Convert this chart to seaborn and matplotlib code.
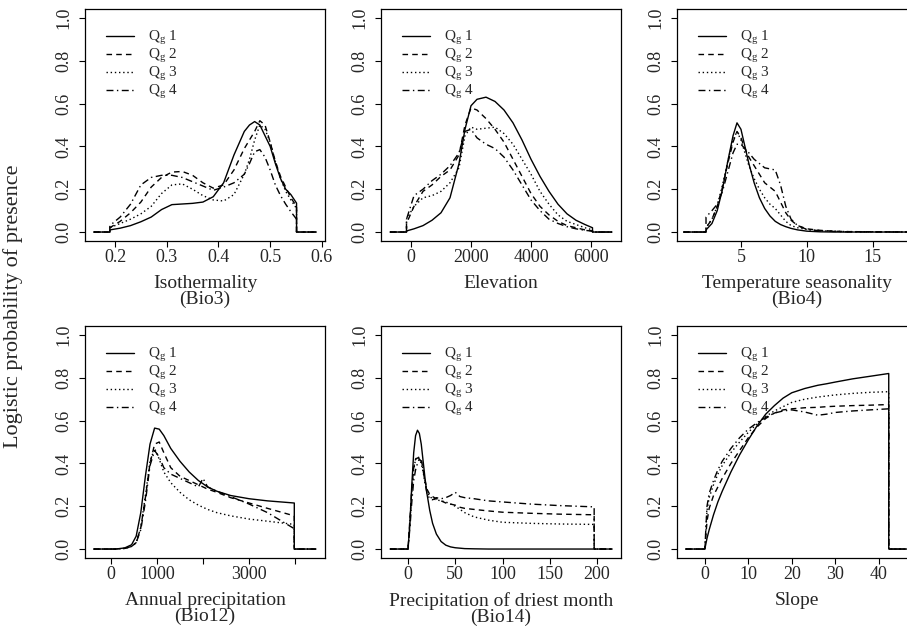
import numpy as np
import pandas as pd
import matplotlib
matplotlib.use("Agg")
import matplotlib.pyplot as plt
import seaborn as sns

# ---- data (x grid per panel, one y list per model) ----
series_names = ["Q$_{\\mathrm{g}}$ 1", "Q$_{\\mathrm{g}}$ 2", "Q$_{\\mathrm{g}}$ 3", "Q$_{\\mathrm{g}}$ 4"]

iso_x = [0.159, 0.19, 0.19, 0.21, 0.23, 0.25, 0.27, 0.29, 0.31, 0.33, 0.35, 0.37, 0.39, 0.41,
         0.43, 0.45, 0.46, 0.47, 0.48, 0.49, 0.50, 0.51, 0.52, 0.53, 0.54, 0.551, 0.551, 0.589]
iso_q1 = [0, 0, 0.01, 0.018, 0.03, 0.048, 0.07, 0.105, 0.128, 0.131, 0.134, 0.14, 0.165, 0.23,
          0.36, 0.47, 0.50, 0.516, 0.50, 0.45, 0.40, 0.32, 0.25, 0.20, 0.175, 0.135, 0, 0]
iso_q2 = [0, 0, 0.02, 0.05, 0.09, 0.14, 0.21, 0.255, 0.28, 0.283, 0.265, 0.23, 0.205, 0.22,
          0.29, 0.39, 0.43, 0.47, 0.52, 0.50, 0.42, 0.33, 0.26, 0.21, 0.16, 0.12, 0, 0]
iso_q3 = [0, 0, 0.02, 0.04, 0.06, 0.085, 0.12, 0.18, 0.22, 0.225, 0.20, 0.17, 0.15, 0.145,
          0.175, 0.27, 0.34, 0.43, 0.50, 0.48, 0.42, 0.33, 0.25, 0.19, 0.15, 0.11, 0, 0]
iso_q4 = [0, 0, 0.03, 0.07, 0.13, 0.22, 0.255, 0.265, 0.265, 0.255, 0.235, 0.215, 0.195, 0.21,
          0.23, 0.27, 0.32, 0.375, 0.385, 0.35, 0.29, 0.22, 0.17, 0.13, 0.095, 0.06, 0, 0]

elev_x = [-700, -150, -150, 100, 400, 700, 1000, 1300, 1600, 1800, 2000, 2200, 2500, 2800,
          3100, 3400, 3700, 4000, 4300, 4600, 4900, 5200, 5500, 5800, 6050, 6050, 6700]
elev_q1 = [0, 0, 0.005, 0.015, 0.03, 0.055, 0.09, 0.16, 0.32, 0.48, 0.59, 0.62, 0.63, 0.61,
           0.57, 0.51, 0.43, 0.34, 0.26, 0.19, 0.13, 0.085, 0.055, 0.035, 0.02, 0, 0]
elev_q2 = [0, 0, 0.04, 0.12, 0.19, 0.22, 0.26, 0.29, 0.36, 0.50, 0.58, 0.57, 0.53, 0.48,
           0.42, 0.34, 0.26, 0.18, 0.12, 0.08, 0.05, 0.03, 0.02, 0.01, 0.005, 0, 0]
elev_q3 = [0, 0, 0.06, 0.12, 0.16, 0.17, 0.19, 0.23, 0.30, 0.45, 0.49, 0.48, 0.485, 0.49,
           0.46, 0.41, 0.34, 0.27, 0.19, 0.13, 0.08, 0.05, 0.035, 0.02, 0.01, 0, 0]
elev_q4 = [0, 0, 0.06, 0.17, 0.20, 0.24, 0.27, 0.31, 0.37, 0.47, 0.48, 0.44, 0.41, 0.39,
           0.35, 0.29, 0.22, 0.15, 0.10, 0.06, 0.04, 0.025, 0.015, 0.008, 0.004, 0, 0]

temp_x = [0.65, 2.35, 2.35, 2.8, 3.2, 3.6, 4.0, 4.4, 4.7, 5.0, 5.3, 5.6, 6.0, 6.4, 6.8, 7.2,
          7.6, 8.0, 8.4, 8.8, 9.3, 10.0, 11.0, 12.0, 13.0, 18.5]
temp_q1 = [0, 0, 0.01, 0.04, 0.10, 0.20, 0.33, 0.45, 0.51, 0.48, 0.40, 0.32, 0.23, 0.16, 0.11,
           0.075, 0.05, 0.035, 0.025, 0.017, 0.01, 0.004, 0.001, 0, 0, 0]
temp_q2 = [0, 0, 0.02, 0.06, 0.12, 0.21, 0.32, 0.42, 0.47, 0.44, 0.39, 0.35, 0.31, 0.27, 0.23,
           0.21, 0.19, 0.14, 0.09, 0.055, 0.03, 0.015, 0.008, 0.004, 0.002, 0]
temp_q3 = [0, 0, 0.02, 0.06, 0.12, 0.22, 0.33, 0.43, 0.47, 0.43, 0.37, 0.31, 0.25, 0.20, 0.16,
           0.13, 0.11, 0.08, 0.05, 0.03, 0.02, 0.012, 0.006, 0.004, 0.002, 0]
temp_q4 = [0, 0, 0.07, 0.10, 0.13, 0.19, 0.28, 0.37, 0.41, 0.41, 0.39, 0.37, 0.34, 0.32, 0.30,
           0.295, 0.29, 0.22, 0.12, 0.06, 0.03, 0.012, 0.006, 0.003, 0.001, 0]

prec_x = [-370, 100, 300, 450, 550, 650, 750, 850, 950, 1050, 1150, 1300, 1500, 1700, 1900,
          2000, 2100, 2300, 2600, 3000, 3400, 3980, 3980, 4450]
prec_q1 = [0, 0, 0.005, 0.02, 0.06, 0.17, 0.34, 0.49, 0.565, 0.56, 0.53, 0.47, 0.41, 0.36,
           0.32, 0.305, 0.29, 0.27, 0.25, 0.235, 0.225, 0.215, 0, 0]
prec_q2 = [0, 0, 0.003, 0.012, 0.03, 0.10, 0.24, 0.40, 0.49, 0.50, 0.45, 0.38, 0.34, 0.32,
           0.30, 0.29, 0.28, 0.265, 0.24, 0.215, 0.19, 0.155, 0, 0]
prec_q3 = [0, 0, 0.003, 0.012, 0.03, 0.10, 0.25, 0.41, 0.47, 0.42, 0.36, 0.31, 0.265, 0.23,
           0.205, 0.195, 0.185, 0.17, 0.155, 0.14, 0.13, 0.115, 0, 0]
prec_q4 = [0, 0, 0.003, 0.012, 0.03, 0.09, 0.22, 0.39, 0.46, 0.43, 0.38, 0.35, 0.33, 0.31,
           0.29, 0.33, 0.29, 0.27, 0.245, 0.21, 0.17, 0.095, 0, 0]

dry_x = [-19, 0, 2, 4, 6, 8, 10, 12, 14, 16, 18, 20, 23, 26, 30, 35, 40, 45, 50, 55, 60, 70,
         85, 100, 130, 160, 197, 197, 216]
dry_q1 = [0, 0, 0.12, 0.30, 0.45, 0.53, 0.555, 0.54, 0.49, 0.41, 0.33, 0.26, 0.18, 0.12, 0.07,
          0.035, 0.018, 0.01, 0.006, 0.004, 0.002, 0.001, 0, 0, 0, 0, 0, 0, 0]
dry_q2 = [0, 0, 0.14, 0.28, 0.38, 0.42, 0.425, 0.43, 0.42, 0.37, 0.32, 0.28, 0.255, 0.245,
          0.235, 0.225, 0.215, 0.21, 0.205, 0.195, 0.19, 0.185, 0.178, 0.172, 0.167, 0.163,
          0.16, 0, 0]
dry_q3 = [0, 0, 0.13, 0.27, 0.37, 0.42, 0.43, 0.42, 0.40, 0.36, 0.31, 0.27, 0.245, 0.235,
          0.23, 0.225, 0.22, 0.21, 0.20, 0.185, 0.17, 0.15, 0.135, 0.125, 0.12, 0.117, 0.115,
          0, 0]
dry_q4 = [0, 0, 0.10, 0.22, 0.32, 0.37, 0.40, 0.42, 0.41, 0.37, 0.31, 0.26, 0.235, 0.23,
          0.24, 0.235, 0.24, 0.25, 0.265, 0.245, 0.24, 0.235, 0.225, 0.22, 0.21, 0.203, 0.197,
          0, 0]

slope_x = [-4.4, 0, 0.5, 1, 2, 3, 4, 6, 8, 10, 12, 14, 16, 18, 20, 23, 26, 28, 30, 34, 38,
           42.3, 42.3, 46.7]
slope_q1 = [0, 0, 0.05, 0.09, 0.16, 0.22, 0.27, 0.36, 0.44, 0.51, 0.575, 0.63, 0.67, 0.705,
            0.73, 0.75, 0.765, 0.772, 0.78, 0.795, 0.807, 0.82, 0, 0]
slope_q2 = [0, 0, 0.13, 0.19, 0.25, 0.29, 0.33, 0.40, 0.46, 0.52, 0.57, 0.61, 0.635, 0.65,
            0.655, 0.66, 0.662, 0.665, 0.667, 0.67, 0.672, 0.675, 0, 0]
slope_q3 = [0, 0, 0.18, 0.24, 0.30, 0.35, 0.39, 0.45, 0.50, 0.545, 0.585, 0.62, 0.645, 0.665,
            0.685, 0.70, 0.71, 0.715, 0.72, 0.727, 0.732, 0.735, 0, 0]
slope_q4 = [0, 0, 0.20, 0.26, 0.32, 0.37, 0.41, 0.47, 0.52, 0.56, 0.59, 0.615, 0.635, 0.645,
            0.65, 0.64, 0.625, 0.63, 0.638, 0.645, 0.65, 0.655, 0, 0]

panel_labels = ["Isothermality\n(Bio3)", "Elevation", "Temperature seasonality\n(Bio4)",
                "Annual precipitation\n(Bio12)", "Precipitation of driest month\n(Bio14)", "Slope"]
panel_ticks = [[0.2, 0.3, 0.4, 0.5, 0.6], [0, 2000, 4000, 6000], [5, 10, 15],
               [0, 1000, 2000, 3000, 4000], [0, 50, 100, 150, 200], [0, 10, 20, 30, 40]]
panel_ticklabels = [["0.2", "0.3", "0.4", "0.5", "0.6"], ["0", "2000", "4000", "6000"],
                    ["5", "10", "15"], ["0", "1000", "", "3000", ""],
                    ["0", "50", "100", "150", "200"], ["0", "10", "20", "30", "40"]]
y_ticks = [0.0, 0.2, 0.4, 0.6, 0.8, 1.0]


def main() -> None:
    sns.set_style("ticks")
    plt.rcParams["font.family"] = ["Liberation Serif", "DejaVu Serif"]
    plt.rcParams["mathtext.fontset"] = "custom"
    plt.rcParams["mathtext.rm"] = "Liberation Serif"
    plt.rcParams["mathtext.default"] = "regular"

    panels = [
        (iso_x, [iso_q1, iso_q2, iso_q3, iso_q4], (0.142, 0.606)),
        (elev_x, [elev_q1, elev_q2, elev_q3, elev_q4], (-1000, 7000)),
        (temp_x, [temp_q1, temp_q2, temp_q3, temp_q4], (0.15, 18.35)),
        (prec_x, [prec_q1, prec_q2, prec_q3, prec_q4], (-560, 4646)),
        (dry_x, [dry_q1, dry_q2, dry_q3, dry_q4], (-28.6, 225.4)),
        (slope_x, [slope_q1, slope_q2, slope_q3, slope_q4], (-6.4, 48.8)),
    ]
    line_styles = ["-", (0, (4, 3)), (0, (1, 2)), (0, (5, 2.5, 1, 2.5))]

    fig = plt.figure(figsize=(9.07, 6.27), dpi=100)
    W, H = 907, 627
    col_left = [85, 381, 677]
    row_top = [9.4, 326.4]
    aw, ah = 240, 231.2

    for i, (xs, ys_list, xlim) in enumerate(panels):
        r, c = divmod(i, 3)
        ax = fig.add_axes([col_left[c] / W, 1 - (row_top[r] + ah) / H, aw / W, ah / H])
        for name, ys, ls in zip(series_names, ys_list, line_styles):
            df = pd.DataFrame({"x": xs, "y": ys})
            sns.lineplot(data=df, x="x", y="y", ax=ax, color="black", lw=1.0,
                         linestyle=ls, label=name, estimator=None, sort=False, errorbar=None)
        ax.set_xlim(*xlim)
        ax.set_ylim(-0.04, 1.04)
        ax.set_xticks(panel_ticks[i])
        ax.set_xticklabels(panel_ticklabels[i])
        ax.set_yticks(y_ticks)
        ax.set_yticklabels([f"{v:.1f}" for v in y_ticks], rotation=90, va="center")
        ax.tick_params(axis="both", direction="out", length=4.3, width=0.8,
                       labelsize=13, color="black")
        ax.tick_params(axis="x", pad=2)
        ax.tick_params(axis="y", pad=5)
        ax.set_xlabel(panel_labels[i], fontsize=14, linespacing=0.95, labelpad=6)
        ax.set_ylabel("")
        for sp in ax.spines.values():
            sp.set_visible(True)
            sp.set_linewidth(0.9)
            sp.set_color("black")
        ax.legend(loc="upper left", bbox_to_anchor=(0.06, 0.94), frameon=False,
                  fontsize=11, handlelength=1.85, handletextpad=0.9, labelspacing=0.0,
                  borderaxespad=0)

    fig.text(13 / W, 1 - 306 / H, "Logistic probability of presence", rotation=90,
             ha="center", va="center", fontsize=16)
    fig.savefig("out.png", dpi=100)


if __name__ == "__main__":
    main()
